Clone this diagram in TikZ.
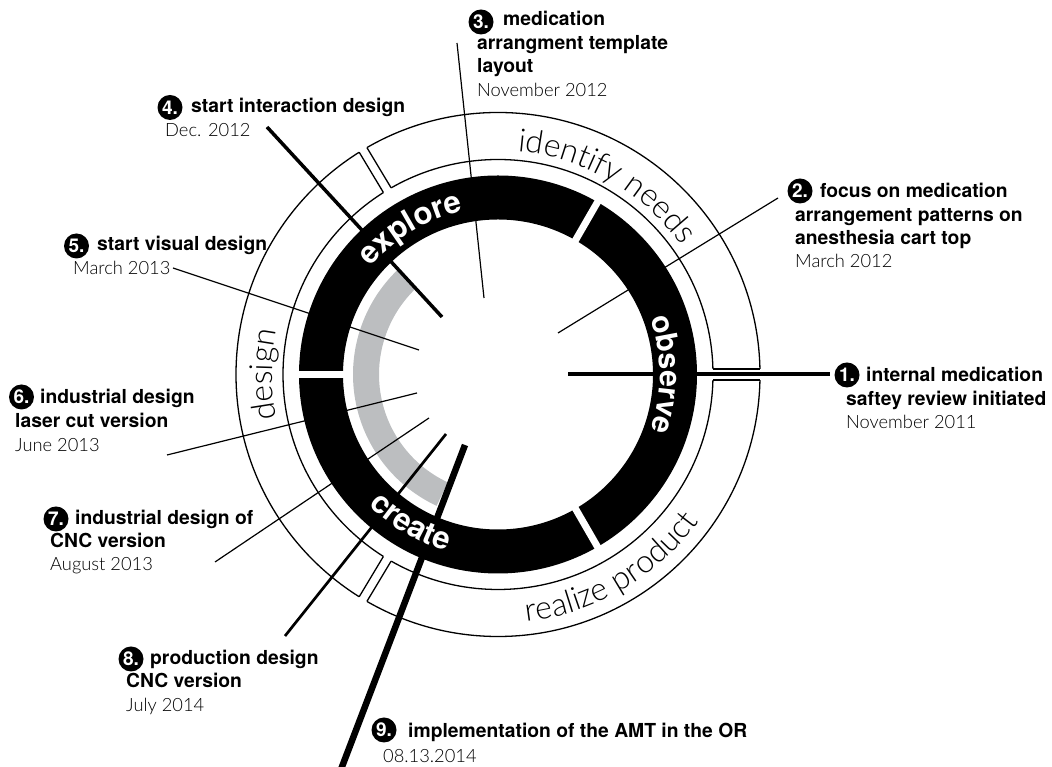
\documentclass[tikz,border=0pt]{standalone}
\usepackage{fontspec}
\setmainfont{TeX Gyre Heros}
\newfontfamily\lightfont{Lato Light}
\usetikzlibrary{calc}
\definecolor{ringgray}{HTML}{BCBEC0}
\newdimen\arcpos
\newdimen\arctot
\newdimen\arcone
\newbox\arcboxA
\newbox\arcboxB
% #1 radius, #2 centre angle, #3 1 = clockwise (tops outward) / -1 = counter-clockwise (tops inward),
% #4 font, #5 colour, #6 comma list of letters (~ = space)
\newcommand\arcword[6]{%
  \pgfmathsetmacro\arcR{#1}%
  \path (C) node[inner sep=0pt, font={#4}] {\global\setbox\arcboxA=\hbox{\foreach \ch in {#6}{\ch}}};%
  \global\arctot=\wd\arcboxA
  \pgfmathsetmacro\arcW{\the\arctot}%
  \global\arcpos=0pt
  \foreach \ch in {#6}{%
    \path (C) node[inner sep=0pt, font={#4}] {\global\setbox\arcboxB=\hbox{\ch}};%
    \global\arcone=\wd\arcboxB
    \pgfmathsetmacro\arcS{\the\arcpos+0.5*\the\arcone-0.5*\arcW}%
    \pgfmathsetmacro\arcA{#2-#3*\arcS/\arcR*180/pi}%
    \pgfmathsetmacro\arcRot{\arcA-#3*90}%
    \node[anchor=base, inner sep=0pt, text=#5, font={#4}, rotate=\arcRot] at ($(C)+(\arcA:\arcR pt)$) {\ch};
    \global\advance\arcpos by \arcone
  }%
}
\begin{document}
\begin{tikzpicture}[x=1pt,y=1pt,
  title/.style={anchor=base west, inner sep=0pt, font=\fontsize{19.3}{23}\selectfont\bfseries},
  datetext/.style={anchor=base west, inner sep=0pt, font=\fontsize{18.3}{22}\selectfont\lightfont},
  badge/.style={circle, fill=black, minimum size=25pt, inner sep=0pt, text=white, font=\fontsize{19}{19}\selectfont\bfseries},
  thinline/.style={line width=1.2pt},
  thickline/.style={line width=3.5pt},
  bandline/.style={line width=1.3pt},
]
\useasboundingbox (0,0) rectangle (1052,767);
\coordinate (C) at (498,392.5);

% ---- outer stage band ----
\draw[bandline] (C) circle (215pt) (C) circle (262pt);
\foreach \a/\d in {0/5.5,121/4.5,239/4.5}{
  \draw[white, line width=2*\d pt] ($(C)+(\a:210pt)$) -- ($(C)+(\a:267pt)$);
  \draw[bandline] ($(C)+(\a:215pt)+(\a+90:\d pt)$) -- ($(C)+(\a:262pt)+(\a+90:\d pt)$);
  \draw[bandline] ($(C)+(\a:215pt)+(\a-90:\d pt)$) -- ($(C)+(\a:262pt)+(\a-90:\d pt)$);
}

% ---- black phase ring ----
\fill[black, even odd rule] (C) circle (199pt) (C) circle (155pt);
\foreach \a in {60,180,300}{
  \draw[white, line width=7pt] ($(C)+(\a:150pt)$) -- ($(C)+(\a:204pt)$);
}

% ---- gray ring ----
\draw[ringgray, line width=26pt] ($(C)+(134:132pt)$) arc[start angle=134, end angle=245, radius=132pt];

% ---- connector end points ----
\coordinate (i1) at (568,393);   \coordinate (o1) at (830,393);
\coordinate (i2) at (558,434);   \coordinate (o2) at (778,569);
\coordinate (i3) at (484,469);   \coordinate (o3) at (457,724);
\coordinate (i4) at (442,450);   \coordinate (o4) at (267,640);
\coordinate (i5) at (419,417);   \coordinate (o5) at (173,499);
\coordinate (i6) at (417,374);   \coordinate (o6) at (167,312);
\coordinate (i7) at (429,349);   \coordinate (o7) at (215,205);
\coordinate (i8) at (446,333);   \coordinate (o8) at (285,131);
\coordinate (i9) at (465,322);   \coordinate (o9) at (340,-5);

\draw[thickline] (i1) -- (o1);
\draw[thinline] (i2) -- (o2);
\draw[thinline] (i3) -- (o3);
\draw[thickline] (i4) -- (o4);
\draw[thinline] (i5) -- (o5);
\draw[thinline] (i6) -- (o6);
\draw[thinline] (i7) -- (o7);
\draw[line width=2.7pt] (i8) -- (o8);
\draw[line width=6.5pt] (i9) -- (o9);

% ---- ring texts ----
\arcword{167}{121}{1}{\fontsize{31}{31}\selectfont\bfseries}{white}{e,x,p,l,o,r,e}
\arcword{162}{0}{1}{\fontsize{30}{30}\selectfont\bfseries}{white}{o,b,s,e,r,v,e}
\arcword{184}{239.5}{-1}{\fontsize{31}{31}\selectfont\bfseries}{white}{c,r,e,a,t,e}

\arcword{224}{60}{1}{\fontsize{32}{32}\selectfont\lightfont}{black}{i,d,e,n,t,i,f,y,~,n,e,e,d,s}
\arcword{226}{180}{1}{\fontsize{32}{32}\selectfont\lightfont}{black}{d,e,s,i,g,n}
\arcword{249}{300}{-1}{\fontsize{32}{32}\selectfont\lightfont}{black}{r,e,a,l,i,z,e,~,p,r,o,d,u,c,t}

% ---- labels ----
\node[badge] (b1) at (847,392) {1.};
\node[title] (t1a) at (866,385) {internal medication};
\node[title] (t1b) at (846,361.5) {saftey review initiated};
\node[datetext] (d1) at (846,338.5) {November 2011};

\node[badge] (b2) at (800,576) {2.};
\node[title] (t2a) at (820,569) {focus on medication};
\node[title] (t2b) at (795,545) {arrangement patterns on};
\node[title] (t2c) at (795,522) {anesthesia cart top};
\node[datetext] (d2) at (795,499) {March 2012};

\node[badge] (b3) at (481,745) {3.};
\node[title] (t3a) at (503,741) {medication};
\node[title] (t3b) at (477,717) {arrangment template};
\node[title] (t3c) at (477,694) {layout};
\node[datetext] (d3) at (477,670) {November 2012};

\node[badge] (b4) at (170,659.5) {4.};
\node[title] (t4a) at (191,654) {start interaction design};
\node[datetext] (d4) at (165,630) {Dec. 2012};

\node[badge] (b5) at (76.5,521) {5.};
\node[title] (t5a) at (97,516) {start visual design};
\node[datetext] (d5) at (73,492) {March 2013};

\node[badge] (b6) at (21.5,370) {6.};
\node[title] (t6a) at (40,363) {industrial design};
\node[title] (t6b) at (15,339) {laser cut version};
\node[datetext] (d6) at (15,315) {June 2013};

\node[badge] (b7) at (56,248) {7.};
\node[title] (t7a) at (75,242) {industrial design of};
\node[title] (t7b) at (50,219) {CNC version};
\node[datetext] (d7) at (50,196) {August 2013};

\node[badge] (b8) at (131,108) {8.};
\node[title] (t8a) at (150,102) {production design};
\node[title] (t8b) at (126,79) {CNC version};
\node[datetext] (d8) at (126,55) {July 2014};

\node[badge] (b9) at (384,37) {9.};
\node[title] (t9a) at (408,29) {implementation of the AMT in the OR};
\node[datetext] (d9) at (383,4) {08.13.2014};
\end{tikzpicture}
\end{document}
